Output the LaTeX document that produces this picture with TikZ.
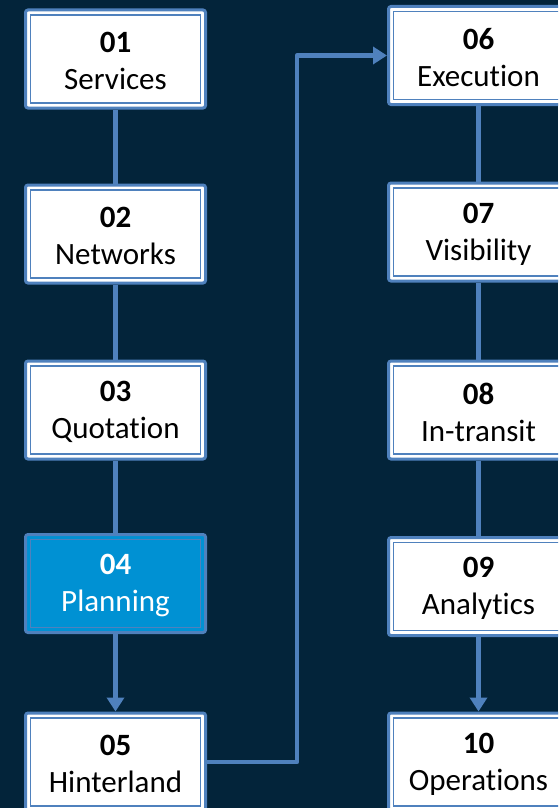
\documentclass[tikz,border=0pt]{standalone}
\usepackage{fontspec}
\setmainfont{Carlito}[Ligatures=NoCommon]
\usetikzlibrary{arrows.meta}
\definecolor{bgnavy}{HTML}{03243A}
\definecolor{bord}{HTML}{4F81BD}
\definecolor{hlfill}{HTML}{0091D3}
\tikzset{
  stageframe/.style={rectangle, draw=bord, line width=3pt, rounded corners=2.5pt,
    fill=white, minimum width=180pt, minimum height=98pt, inner sep=0pt,
    path picture={\draw[bord, line width=1.6pt, sharp corners]
      ([shift={(5pt,5pt)}]path picture bounding box.south west) rectangle
      ([shift={(-5pt,-5pt)}]path picture bounding box.north east);}},
  stagetext/.style={align=center, font=\fontsize{31}{37}\selectfont, yshift=-2pt},
  stagebox/.style={stageframe, label={[stagetext, text=black]center:#1}},
  hlbox/.style={stageframe, fill=hlfill, label={[stagetext, text=white]center:#1}},
  link/.style={draw=bord, line width=4.5pt, line join=round},
  linkarrow/.style={link, -{Triangle[width=17pt,length=14pt]}}
}
\begin{document}
\begin{tikzpicture}[x=1pt,y=-1pt]
\fill[bgnavy] (0,0) rectangle (558,808);
\useasboundingbox (0,0) rectangle (558,808);
\clip (0,0) rectangle (558,808);
% left column
\node[stagebox={\textbf{01}\\Services}]   (n01) at (115.5,59) {};
\node[stagebox={\textbf{02}\\Networks}]   (n02) at (115.5,234) {};
\node[stagebox={\textbf{03}\\Quotation}]  (n03) at (115.5,410) {};
\node[hlbox={\textbf{04}\\Planning}]      (n04) at (115.5,583.5) {};
\node[stagebox={\textbf{05}\\Hinterland}] (n05) at (115.5,762) {};
% right column
\node[stagebox={\textbf{06}\\Execution}]  (n06) at (478.5,55.5) {};
\node[stagebox={\textbf{07}\\Visibility}] (n07) at (478.5,232) {};
\node[stagebox={\textbf{08}\\In-transit}] (n08) at (478.5,410) {};
\node[stagebox={\textbf{09}\\Analytics}]  (n09) at (478.5,586.5) {};
\node[stagebox={\textbf{10}\\Operations}] (n10) at (478.5,762) {};
% connectors
\draw[link] (n01.south) -- (n02.north);
\draw[link] (n02.south) -- (n03.north);
\draw[link] (n03.south) -- (n04.north);
\draw[linkarrow] (n04.south) -- (n05.north);
\draw[link] (n06.south) -- (n07.north);
\draw[link] (n07.south) -- (n08.north);
\draw[link] (n08.south) -- (n09.north);
\draw[linkarrow] (n09.south) -- (n10.north);
\coordinate (elbow) at (297,0);
\draw[linkarrow] (n05.east) -- (elbow |- n05.east) -- (elbow |- n06.west) -- (n06.west);
\end{tikzpicture}
\end{document}
